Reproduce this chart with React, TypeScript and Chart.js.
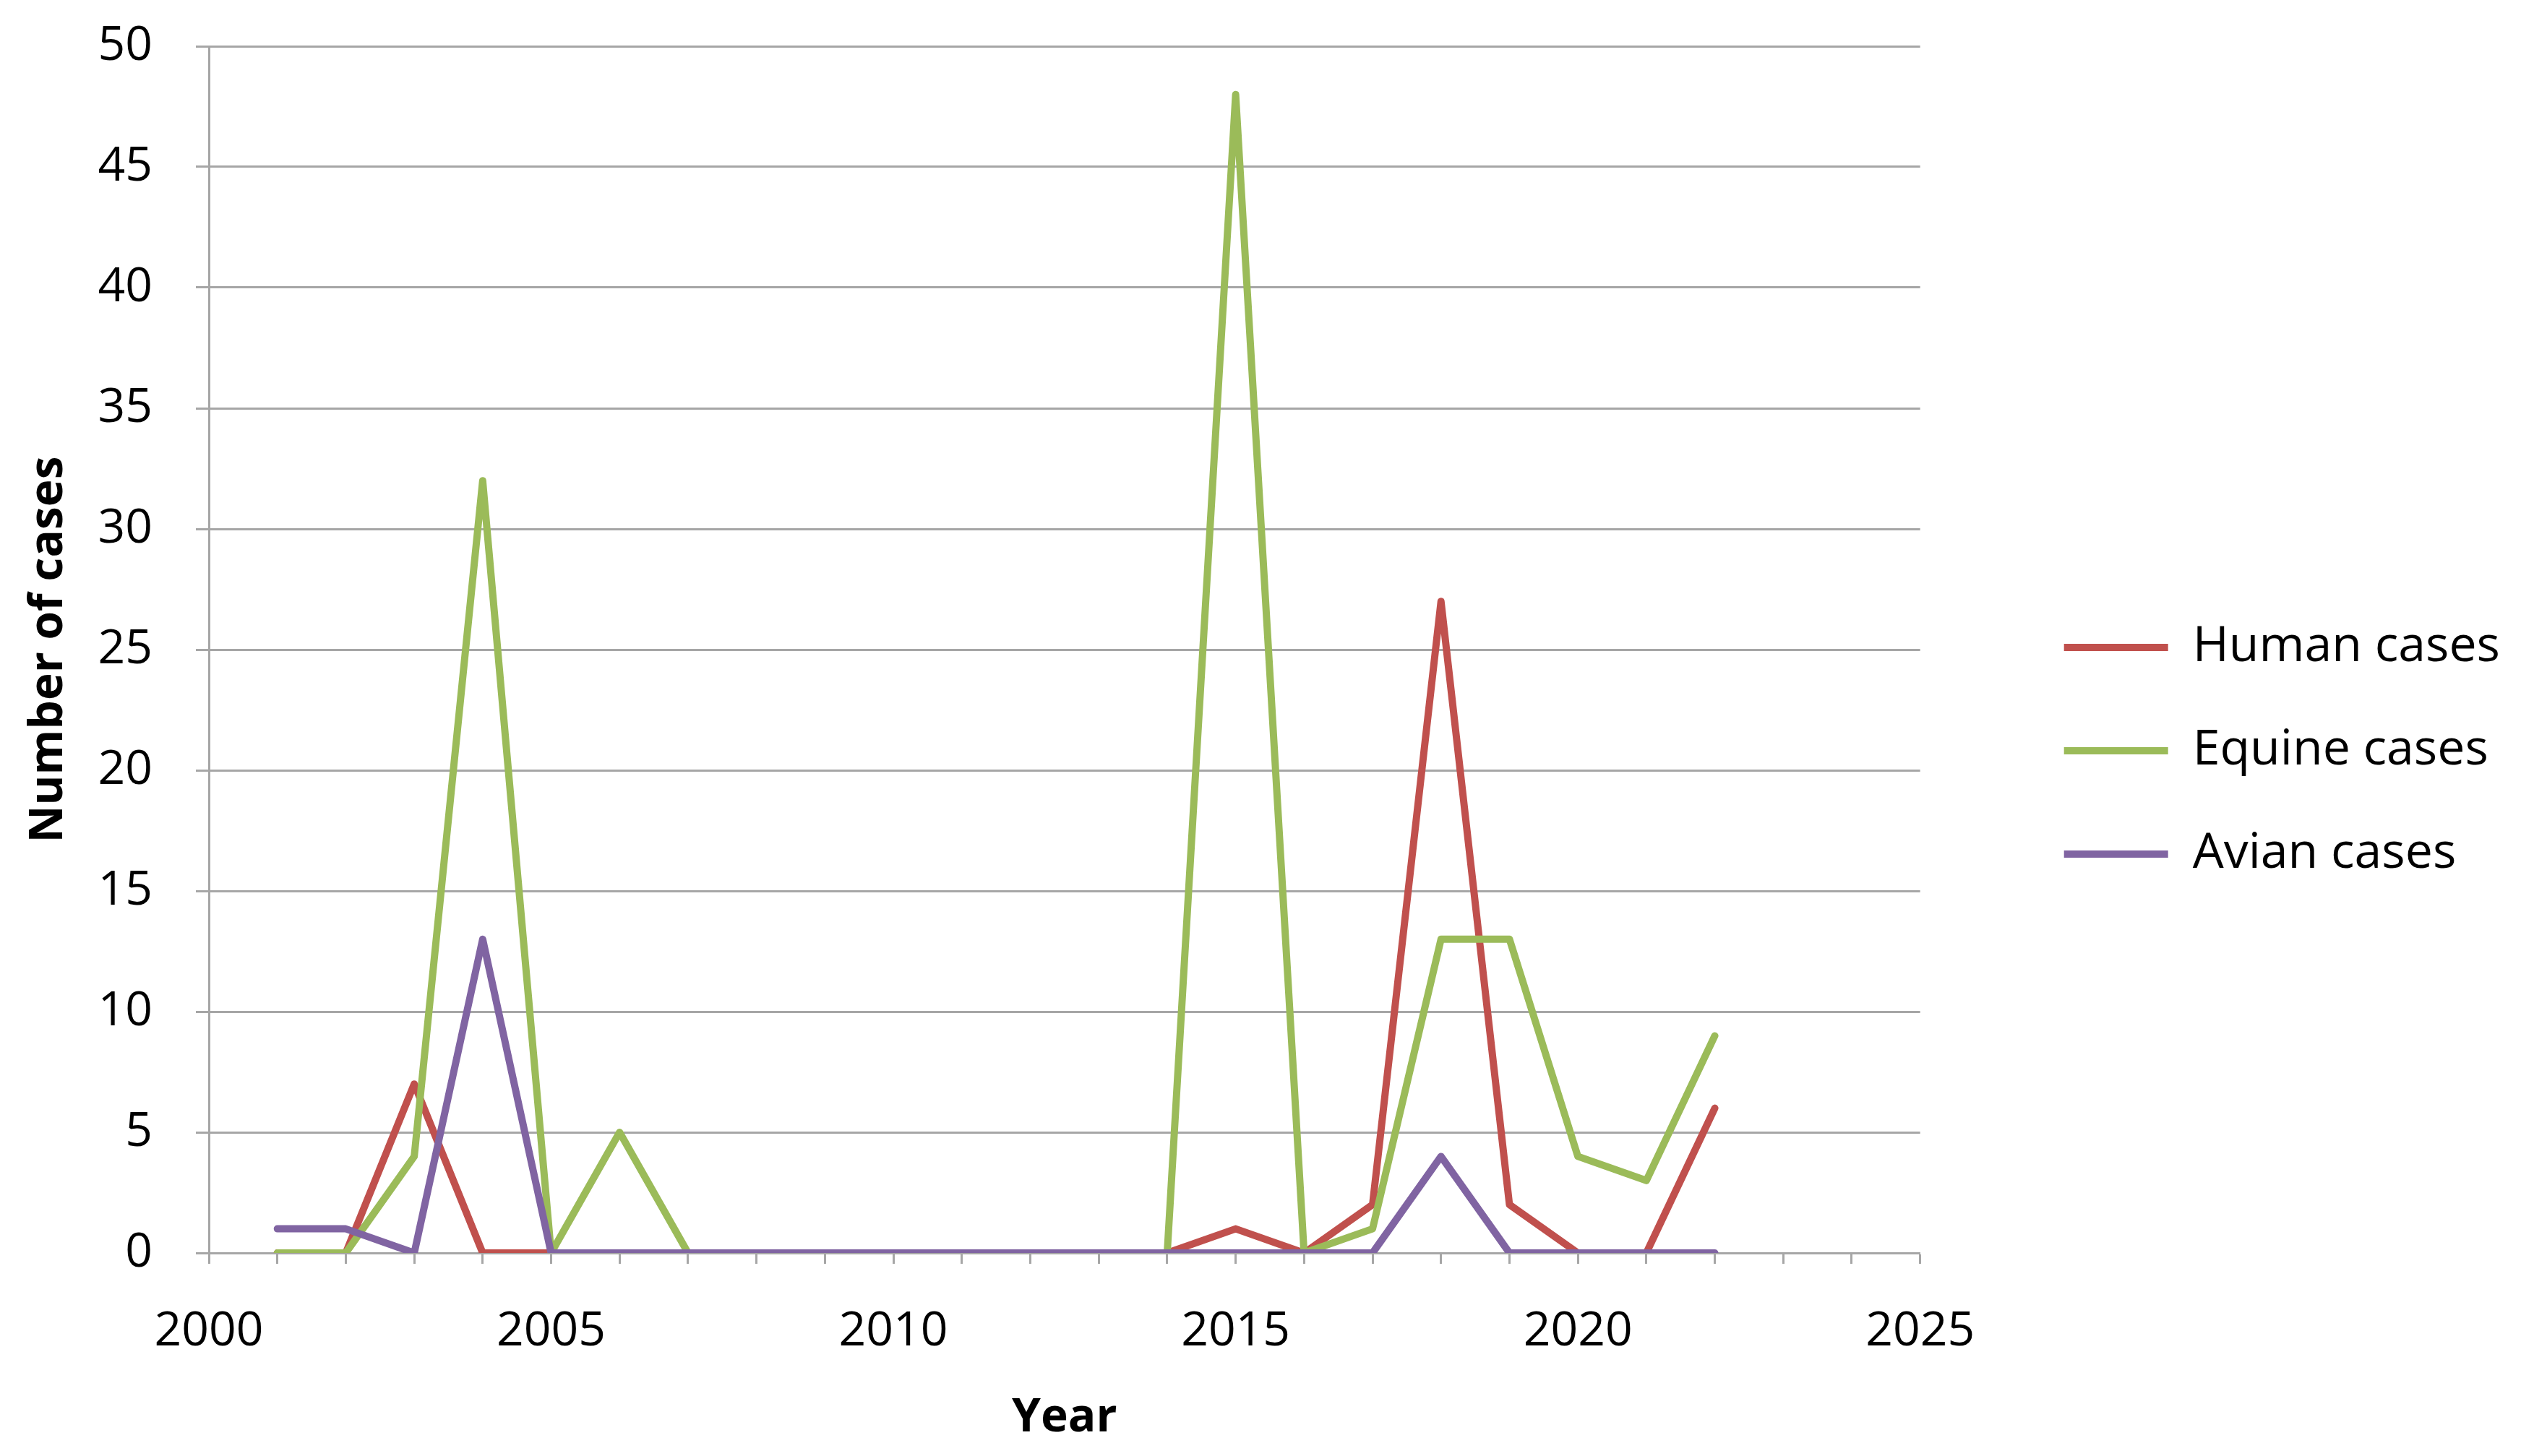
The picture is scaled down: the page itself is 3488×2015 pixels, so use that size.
import React, { useEffect, useRef } from "react";
import { Chart, registerables } from "chart.js";

Chart.register(...registerables);

const years = [2001, 2002, 2003, 2004, 2005, 2006, 2007, 2008, 2009, 2010, 2011, 2012, 2013, 2014, 2015, 2016, 2017, 2018, 2019, 2020, 2021, 2022];
const humanCases = [0, 0, 7, 0, 0, 0, 0, 0, 0, 0, 0, 0, 0, 0, 1, 0, 2, 27, 2, 0, 0, 6];
const equineCases = [0, 0, 4, 32, 0, 5, 0, 0, 0, 0, 0, 0, 0, 0, 48, 0, 1, 13, 13, 4, 3, 9];
const avianCases = [1, 1, 0, 13, 0, 0, 0, 0, 0, 0, 0, 0, 0, 0, 0, 0, 0, 4, 0, 0, 0, 0];
const seriesNames = ["Human cases", "Equine cases", "Avian cases"];
const seriesColors = ["#C0504D", "#9BBB59", "#8064A2"];
const xTickStep = 5;

const FONT = "'Open Sans', 'DejaVu Sans', sans-serif";
const GRID = "#A6A6A6";

const legendShift = {
  id: "legendShift",
  afterLayout(chart: any) {
    const l = chart.legend;
    if (!l) return;
    l.left += 124;
    l.right = Math.max(l.right + 124, chart.width);
    l.width = l.right - l.left;
  },
};

export default function App() {
  const ref = useRef<HTMLCanvasElement>(null);
  useEffect(() => {
    if (!ref.current) return;
    const all = [humanCases, equineCases, avianCases];
    const chart = new Chart(ref.current, {
      type: "line",
      data: {
        datasets: all.map((vals, i) => ({
          label: seriesNames[i],
          data: years.map((y, k) => ({ x: y, y: vals[k] })),
          borderColor: seriesColors[i],
          backgroundColor: seriesColors[i],
          borderWidth: 10,
          borderCapStyle: "round" as const,
          borderJoinStyle: "round" as const,
          pointRadius: 0,
          pointHoverRadius: 0,
          tension: 0,
          order: 3 - i,
        })),
      },
      plugins: [legendShift],
      options: {
        responsive: false,
        animation: false,
        layout: { padding: { top: 64, right: 143, bottom: 14, left: 0 } },
        plugins: {
          tooltip: { enabled: false },
          legend: {
            position: "right",
            align: "center",
            title: { display: true, text: " ", font: { size: 10 }, padding: { top: 0, bottom: 1 } },
            labels: {
              usePointStyle: true,
              pointStyle: "line",
              pointStyleWidth: 144,
              boxWidth: 144,
              boxHeight: 68,
              padding: 75,
              color: "#000",
              font: { family: FONT, size: 68 },
              sort: (a: any, b: any) => a.datasetIndex - b.datasetIndex,
            },
          },
        },
        scales: {
          x: {
            type: "linear",
            min: 2000,
            max: 2025,
            grid: {
              drawOnChartArea: false,
              drawTicks: true,
              tickLength: 15,
              tickColor: GRID,
              tickWidth: 3,
            },
            border: { color: GRID, width: 3 },
            ticks: {
              stepSize: 1,
              autoSkip: false,
              maxRotation: 0,
              padding: 55,
              color: "#000",
              font: { family: FONT, size: 66 },
              callback: (v: any) => (Number(v) % xTickStep === 0 ? String(v) : ""),
            },
            title: {
              display: true,
              text: "Year",
              color: "#000",
              font: { family: FONT, size: 64, weight: "bold" },
              padding: { top: -14, bottom: 0 },
            },
          },
          y: {
            min: 0,
            max: 50,
            grid: {
              color: GRID,
              lineWidth: 3,
              tickLength: 18,
              tickColor: GRID,
              tickWidth: 3,
            },
            border: { color: GRID, width: 3 },
            ticks: {
              stepSize: 5,
              padding: 60,
              color: "#000",
              font: { family: FONT, size: 66 },
            },
            title: {
              display: true,
              text: "Number of cases",
              color: "#000",
              font: { family: FONT, size: 64, weight: "bold" },
              padding: { top: 29, bottom: 32 },
            },
            afterFit: (s: any) => {
              s.width = 289;
              s.paddingTop = 40;
              s.paddingBottom = 40;
            },
          },
        },
      },
    });
    return () => chart.destroy();
  }, []);
  return (
    <div style={{ position: "absolute", left: 0, top: 0, width: 3488, height: 2015, background: "#fff" }}>
      <canvas ref={ref} width={3488} height={2015} style={{ display: "block" }} />
    </div>
  );
}
